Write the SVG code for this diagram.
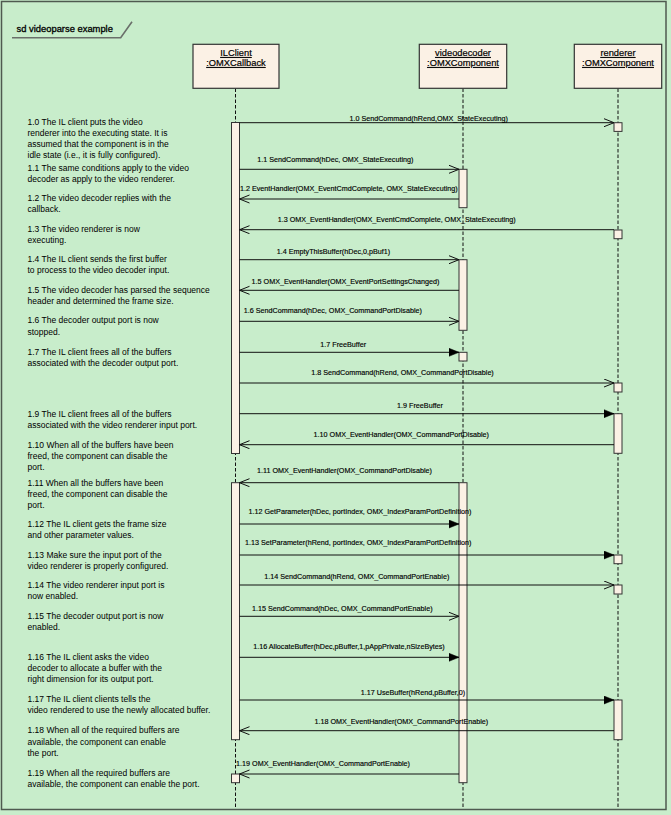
<svg xmlns="http://www.w3.org/2000/svg" width="671" height="815" viewBox="0 0 671 815">
<style>
  .bg { fill: #C8EDCB; }
  .frame { fill: none; stroke: #4f5a50; stroke-width: 1.5; }
  .tab { fill: none; stroke: #6a6f6a; stroke-width: 1.6; }
  .title { font-family: "Liberation Sans", Arial, sans-serif; font-size: 9.4px; fill: #000; stroke: #000; stroke-width: 0.3; }
  .head { fill: #FBF1E5; stroke: #333; stroke-width: 1.2; }
  .headtxt { font-family: "Liberation Sans", Arial, sans-serif; font-size: 9.3px; fill: #000; stroke: #000; stroke-width: 0.2; text-anchor: middle; text-decoration: underline; }
  .life { stroke: #111; stroke-width: 1; stroke-dasharray: 3.5 2; fill: none; }
  .act { fill: #FBF1E5; stroke: #333; stroke-width: 1; }
  .msg { stroke: #111; stroke-width: 1; fill: none; }
  .open { marker-end: url(#openArrow); }
  .filled { marker-end: url(#filledArrow); }
  .lbl { font-family: "Liberation Sans", Arial, sans-serif; font-size: 7.2px; fill: #000; stroke: #000; stroke-width: 0.15; text-anchor: middle; }
  .note { font-family: "Liberation Sans", Arial, sans-serif; font-size: 9.3px; fill: #000; }
</style>
<defs>
  <marker id="openArrow" markerUnits="userSpaceOnUse" markerWidth="12" markerHeight="10" refX="10" refY="4.5" orient="auto">
    <path d="M0,0.5 L10,4.5 L0,8.5" fill="none" stroke="#111" stroke-width="1"/>
  </marker>
  <marker id="filledArrow" markerUnits="userSpaceOnUse" markerWidth="12" markerHeight="10" refX="10" refY="4.5" orient="auto">
    <path d="M0,0.5 L10,4.5 L0,8.5 z" fill="#000" stroke="#000" stroke-width="0.5"/>
  </marker>
</defs>

<rect class="bg" x="0" y="0" width="671" height="815"/>
<rect class="frame" x="1.5" y="1.5" width="664.5" height="808"/>
<g id="frame-title">
  <polyline class="tab" points="12,37.7 120.7,37.7 132,21.7"/>
  <text class="title" x="16.5" y="32">sd videoparse example</text>
</g>

<g id="lifelines">
  <line class="life" x1="235.5" y1="88.5" x2="235.5" y2="808"/>
  <line class="life" x1="463" y1="88.5" x2="463" y2="808"/>
  <line class="life" x1="618" y1="88.5" x2="618" y2="808"/>
</g>

<g id="node-ilclient">
  <rect class="head" x="193" y="44.3" width="86" height="44"/>
  <text class="headtxt" x="236" y="56">ILClient</text>
  <text class="headtxt" x="236" y="66">:OMXCallback</text>
  <rect class="act" x="231.5" y="122.5" width="8" height="331"/>
  <rect class="act" x="231.5" y="482.7" width="8" height="257"/>
  <rect class="act" x="231.5" y="774" width="8" height="8.7"/>
</g>

<g id="node-videodecoder">
  <rect class="head" x="419.3" y="44.3" width="87.4" height="44"/>
  <text class="headtxt" x="463" y="56">videodecoder</text>
  <text class="headtxt" x="463" y="66">:OMXComponent</text>
  <rect class="act" x="459" y="169.3" width="8" height="38.4"/>
  <rect class="act" x="459" y="259.7" width="8" height="70.6"/>
  <rect class="act" x="459" y="352.3" width="8" height="8.7"/>
  <rect class="act" x="459" y="482.7" width="8" height="300"/>
</g>

<g id="node-renderer">
  <rect class="head" x="574.3" y="44.3" width="87.4" height="44"/>
  <text class="headtxt" x="618" y="56">renderer</text>
  <text class="headtxt" x="618" y="66">:OMXComponent</text>
  <rect class="act" x="614" y="122.7" width="8" height="8.7"/>
  <rect class="act" x="614" y="230" width="8" height="8.7"/>
  <rect class="act" x="614" y="383" width="8" height="9"/>
  <rect class="act" x="614" y="413.7" width="8" height="39.6"/>
  <rect class="act" x="614" y="555" width="8" height="8.7"/>
  <rect class="act" x="614" y="585" width="8" height="9"/>
  <rect class="act" x="614" y="700" width="8" height="39.7"/>
</g>

<g id="connectors">
  <line class="msg open" x1="239.5" y1="122.7" x2="614" y2="122.7"/>
  <text class="lbl" x="428.7" y="120.5">1.0 SendCommand(hRend,OMX_StateExecuting)</text>

  <line class="msg open" x1="239.5" y1="169.3" x2="459" y2="169.3"/>
  <text class="lbl" x="335.3" y="162.3">1.1 SendCommand(hDec, OMX_StateExecuting)</text>

  <line class="msg open" x1="459" y1="199" x2="239.5" y2="199"/>
  <text class="lbl" x="348.8" y="190.5">1.2 EventHandler(OMX_EventCmdComplete, OMX_StateExecuting)</text>

  <line class="msg open" x1="614" y1="229.7" x2="239.5" y2="229.7"/>
  <text class="lbl" x="396.7" y="222">1.3 OMX_EventHandler(OMX_EventCmdComplete, OMX_StateExecuting)</text>

  <line class="msg open" x1="239.5" y1="259.7" x2="459" y2="259.7"/>
  <text class="lbl" x="333.5" y="254">1.4 EmptyThisBuffer(hDec,0,pBuf1)</text>

  <line class="msg open" x1="459" y1="290.3" x2="239.5" y2="290.3"/>
  <text class="lbl" x="345.5" y="284">1.5 OMX_EventHandler(OMX_EventPortSettingsChanged)</text>

  <line class="msg open" x1="239.5" y1="321.3" x2="459" y2="321.3"/>
  <text class="lbl" x="332.8" y="313">1.6 SendCommand(hDec, OMX_CommandPortDisable)</text>

  <line class="msg filled" x1="239.5" y1="352.3" x2="459" y2="352.3"/>
  <text class="lbl" x="343.2" y="346.7">1.7 FreeBuffer</text>

  <line class="msg open" x1="239.5" y1="383" x2="614" y2="383"/>
  <text class="lbl" x="402.5" y="374.7">1.8 SendCommand(hRend, OMX_CommandPortDisable)</text>

  <line class="msg filled" x1="239.5" y1="413.7" x2="614" y2="413.7"/>
  <text class="lbl" x="420" y="407.7">1.9 FreeBuffer</text>

  <line class="msg open" x1="614" y1="444.7" x2="239.5" y2="444.7"/>
  <text class="lbl" x="401.3" y="437">1.10 OMX_EventHandler(OMX_CommandPortDisable)</text>

  <line class="msg open" x1="459" y1="482.7" x2="239.5" y2="482.7"/>
  <text class="lbl" x="344.5" y="472.7">1.11 OMX_EventHandler(OMX_CommandPortDisable)</text>

  <line class="msg filled" x1="239.5" y1="524" x2="459" y2="524"/>
  <text class="lbl" x="360" y="513.7">1.12 GetParameter(hDec, portIndex, OMX_IndexParamPortDefinition)</text>

  <line class="msg filled" x1="239.5" y1="555" x2="614" y2="555"/>
  <text class="lbl" x="358.2" y="544.7">1.13 SetParameter(hRend, portIndex, OMX_IndexParamPortDefinition)</text>

  <line class="msg open" x1="239.5" y1="585" x2="614" y2="585"/>
  <text class="lbl" x="356.8" y="579.3">1.14 SendCommand(hRend, OMX_CommandPortEnable)</text>

  <line class="msg open" x1="239.5" y1="616.3" x2="459" y2="616.3"/>
  <text class="lbl" x="342.3" y="610.7">1.15 SendCommand(hDec, OMX_CommandPortEnable)</text>

  <line class="msg filled" x1="239.5" y1="657.3" x2="459" y2="657.3"/>
  <text class="lbl" x="349" y="648.7">1.16 AllocateBuffer(hDec,pBuffer,1,pAppPrivate,nSizeBytes)</text>

  <line class="msg filled" x1="239.5" y1="700" x2="614" y2="700"/>
  <text class="lbl" x="413" y="694.7">1.17 UseBuffer(hRend,pBuffer,0)</text>

  <line class="msg open" x1="614" y1="730.7" x2="239.5" y2="730.7"/>
  <text class="lbl" x="401.3" y="723.7">1.18 OMX_EventHandler(OMX_CommandPortEnable)</text>

  <line class="msg open" x1="459" y1="774" x2="239.5" y2="774"/>
  <text class="lbl" x="323" y="766">1.19 OMX_EventHandler(OMX_CommandPortEnable)</text>
</g>

<g id="notes" transform="translate(27.5 0) scale(0.915 1)">
  <text class="note" x="0" y="125">1.0 The IL client puts the video</text>
  <text class="note" x="0" y="136">renderer into the executing state. It is</text>
  <text class="note" x="0" y="147.5">assumed that the component is in the</text>
  <text class="note" x="0" y="158.5">idle state (i.e., it is fully configured).</text>
  <text class="note" x="0" y="171.5">1.1 The same conditions apply to the video</text>
  <text class="note" x="0" y="182">decoder as apply to the video renderer.</text>
  <text class="note" x="0" y="201.5">1.2 The video decoder replies with the</text>
  <text class="note" x="0" y="212">callback.</text>
  <text class="note" x="0" y="232.3">1.3 The video renderer is now</text>
  <text class="note" x="0" y="242.7">executing.</text>
  <text class="note" x="0" y="262.3">1.4 The IL client sends the first buffer</text>
  <text class="note" x="0" y="273.3">to process to the video decoder input.</text>
  <text class="note" x="0" y="292.7">1.5 The video decoder has parsed the sequence</text>
  <text class="note" x="0" y="304.3">header and determined the frame size.</text>
  <text class="note" x="0" y="323.3">1.6 The decoder output port is now</text>
  <text class="note" x="0" y="334.7">stopped.</text>
  <text class="note" x="0" y="355">1.7 The IL client frees all of the buffers</text>
  <text class="note" x="0" y="366">associated with the decoder output port.</text>
  <text class="note" x="0" y="416.7">1.9 The IL client frees all of the buffers</text>
  <text class="note" x="0" y="427.7">associated with the video renderer input port.</text>
  <text class="note" x="0" y="448">1.10 When all of the buffers have been</text>
  <text class="note" x="0" y="459">freed, the component can disable the</text>
  <text class="note" x="0" y="470">port.</text>
  <text class="note" x="0" y="485.7">1.11 When all the buffers have been</text>
  <text class="note" x="0" y="497">freed, the component can disable the</text>
  <text class="note" x="0" y="507.7">port.</text>
  <text class="note" x="0" y="526.7">1.12 The IL client gets the frame size</text>
  <text class="note" x="0" y="537.7">and other parameter values.</text>
  <text class="note" x="0" y="557.7">1.13 Make sure the input port of the</text>
  <text class="note" x="0" y="568.7">video renderer is properly configured.</text>
  <text class="note" x="0" y="587.7">1.14 The video renderer input port is</text>
  <text class="note" x="0" y="599">now enabled.</text>
  <text class="note" x="0" y="618.7">1.15 The decoder output port is now</text>
  <text class="note" x="0" y="630">enabled.</text>
  <text class="note" x="0" y="660">1.16 The IL client asks the video</text>
  <text class="note" x="0" y="671">decoder to allocate a buffer with the</text>
  <text class="note" x="0" y="682.3">right dimension for its output port.</text>
  <text class="note" x="0" y="702">1.17 The IL client clients tells the</text>
  <text class="note" x="0" y="713.3">video rendered to use the newly allocated buffer.</text>
  <text class="note" x="0" y="733.3">1.18 When all of the required buffers are</text>
  <text class="note" x="0" y="744.7">available, the component can enable</text>
  <text class="note" x="0" y="756">the port.</text>
  <text class="note" x="0" y="776">1.19 When all the required buffers are</text>
  <text class="note" x="0" y="787.3">available, the component can enable the port.</text>
</g>
</svg>
